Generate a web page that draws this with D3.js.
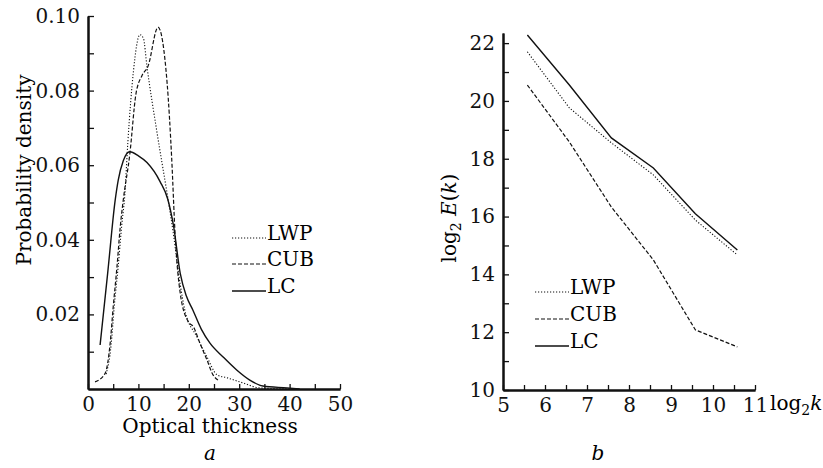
<!DOCTYPE html>
<html>
<head>
<meta charset="utf-8">
<script src="https://cdn.jsdelivr.net/npm/d3@7"></script>
<style>
  body { margin: 0; background: #fff; }
  svg { font-family: "DejaVu Serif", serif; font-size: 20px; }
  .axis path, .axis line { stroke: #111; }
  .axis text { font-family: "DejaVu Serif", serif; font-size: 20px; fill: #111; }
</style>
</head>
<body>
<svg width="823" height="468"></svg>
<script>
// panel a: probability density vs optical thickness  [tau, density]
const lwpPdf = [[3.6,0.004],[4.6,0.012],[5.2,0.022],[6,0.033],[6.7,0.044],[7.3,0.052],[7.9,0.066],[9,0.085],[10.3,0.095],[11,0.094],[11.7,0.0865],[13.7,0.0687],[15.9,0.0507],[16.9,0.042],[18.3,0.028],[19.2,0.0212],[21.6,0.014],[23.6,0.0086],[25.6,0.0038],[27.6,0.003],[30.8,0.0016],[34,0.0003],[40,0]];
const cubPdf = [[1.4,0.0019],[3.4,0.0042],[4.4,0.0123],[5,0.022],[5.75,0.0328],[6.4,0.0435],[7,0.0507],[8.3,0.063],[9.5,0.079],[10.7,0.084],[11.9,0.0865],[13.9,0.097],[15.7,0.082],[16.6,0.062],[17.3,0.041],[18.3,0.0257],[19.9,0.018],[20.9,0.0167],[22.2,0.0123],[23.6,0.0078],[24.8,0.0038],[25.8,0.0024]];
const lcPdf = [[2.4,0.0118],[3.9,0.031],[5.4,0.0507],[6,0.056],[7,0.0612],[8.3,0.0636],[10,0.0625],[11.7,0.0607],[14.3,0.0556],[15.8,0.051],[17,0.0435],[18.3,0.031],[19.5,0.025],[20.8,0.0212],[22.5,0.016],[24.2,0.0123],[26.8,0.0086],[29.5,0.0051],[32.1,0.0024],[34.7,0.0008],[39.5,0.0003],[42,0]];

// panel b: spectra
const logK = [5.58, 6.58, 7.58, 8.58, 9.58, 10.58];
const lwpSpec = [21.7, 19.76, 18.55, 17.44, 15.88, 14.67];
const cubSpec = [20.55, 18.58, 16.33, 14.5, 12.08, 11.49];
const lcSpec = [22.28, 20.55, 18.72, 17.68, 16.1, 14.84];

const seriesNames = ["LWP", "CUB", "LC"];
const dashes = {LWP: "1.2,1.8", CUB: "4,2", LC: null};
const widths = {LWP: 1.1, CUB: 1.2, LC: 1.4};

const svg = d3.select("svg");

function drawLine(g, pts, name, x, y, curve) {
  g.append("path")
    .datum(pts)
    .attr("fill", "none")
    .attr("stroke", "#111")
    .attr("stroke-width", widths[name])
    .attr("stroke-dasharray", dashes[name])
    .attr("d", d3.line().x(d => x(d[0])).y(d => y(d[1])).curve(curve));
}

function drawLegend(g, x0, ys) {
  seriesNames.forEach((name, i) => {
    g.append("line")
      .attr("x1", x0).attr("x2", x0 + 34)
      .attr("y1", ys[i] - 2).attr("y2", ys[i] - 2)
      .attr("stroke", "#111")
      .attr("stroke-width", widths[name])
      .attr("stroke-dasharray", dashes[name]);
    g.append("text").attr("x", x0 + 35).attr("y", ys[i]).text(name);
  });
}

function styleAxis(sel) {
  sel.attr("class", "axis");
  sel.select(".domain").attr("stroke-width", 2);
  sel.selectAll(".tick line").attr("stroke-width", 1.3);
}

// ---- panel a ----
const xa = d3.scaleLinear().domain([0, 50]).range([88, 340]);
const ya = d3.scaleLinear().domain([0, 0.1]).range([389, 16]);
const ga = svg.append("g");

ga.append("g").attr("transform", "translate(0,389)")
  .call(d3.axisBottom(xa).tickValues(d3.range(5, 50, 10)).tickSize(-5).tickSizeOuter(0).tickFormat(""))
  .call(styleAxis);
ga.append("g").attr("transform", "translate(0,389)")
  .call(d3.axisBottom(xa).tickValues(d3.range(0, 51, 10)).tickSize(-5).tickSizeOuter(0).tickPadding(8).tickFormat(d3.format("d")))
  .call(styleAxis);
ga.append("g").attr("transform", "translate(88,0)")
  .call(d3.axisLeft(ya).tickValues([0.01, 0.03, 0.05, 0.07, 0.09]).tickSize(-6).tickSizeOuter(0).tickFormat(""))
  .call(styleAxis);
ga.append("g").attr("transform", "translate(88,0)")
  .call(d3.axisLeft(ya).tickValues([0.02, 0.04, 0.06, 0.08, 0.1]).tickSize(-6).tickSizeOuter(0).tickPadding(8).tickFormat(d3.format(".2f")))
  .call(styleAxis);

drawLine(ga, lwpPdf, "LWP", xa, ya, d3.curveMonotoneX);
drawLine(ga, cubPdf, "CUB", xa, ya, d3.curveMonotoneX);
drawLine(ga, lcPdf, "LC", xa, ya, d3.curveMonotoneX);
drawLegend(ga, 232, [240, 266, 293]);

ga.append("text").attr("x", 210).attr("y", 433).attr("text-anchor", "middle").text("Optical thickness");
ga.append("text").attr("transform", "translate(31,170) rotate(-90)").attr("text-anchor", "middle").text("Probability density");
ga.append("text").attr("x", 210).attr("y", 460).attr("text-anchor", "middle").attr("font-style", "italic").text("a");

// ---- panel b ----
const xb = d3.scaleLinear().domain([5, 11]).range([503, 755]);
const yb = d3.scaleLinear().domain([10, 22.35]).range([390, 33]);
const gb = svg.append("g");

gb.append("g").attr("transform", "translate(0,390)")
  .call(d3.axisBottom(xb).tickValues(d3.range(5.5, 11, 1)).tickSize(-5).tickSizeOuter(0).tickFormat(""))
  .call(styleAxis);
gb.append("g").attr("transform", "translate(0,390)")
  .call(d3.axisBottom(xb).tickValues(d3.range(5, 12, 1)).tickSize(-5).tickSizeOuter(0).tickPadding(8).tickFormat(d3.format("d")))
  .call(styleAxis);
gb.append("g").attr("transform", "translate(503,0)")
  .call(d3.axisLeft(yb).tickValues(d3.range(11, 23, 2)).tickSize(-6).tickSizeOuter(0).tickFormat(""))
  .call(styleAxis);
gb.append("g").attr("transform", "translate(503,0)")
  .call(d3.axisLeft(yb).tickValues(d3.range(10, 23, 2)).tickSize(-6).tickSizeOuter(0).tickPadding(8).tickFormat(d3.format("d")))
  .call(styleAxis);

drawLine(gb, d3.zip(logK, lwpSpec), "LWP", xb, yb, d3.curveLinear);
drawLine(gb, d3.zip(logK, cubSpec), "CUB", xb, yb, d3.curveLinear);
drawLine(gb, d3.zip(logK, lcSpec), "LC", xb, yb, d3.curveLinear);
drawLegend(gb, 535, [294, 321, 348]);

const xl = gb.append("text").attr("x", 770).attr("y", 410);
xl.append("tspan").text("log");
xl.append("tspan").attr("font-size", 14).attr("dy", 5).text("2");
xl.append("tspan").attr("font-style", "italic").attr("dy", -5).text("k");

const yl = gb.append("text").attr("transform", "translate(456,218) rotate(-90)").attr("text-anchor", "middle");
yl.append("tspan").text("log");
yl.append("tspan").attr("font-size", 14).attr("dy", 5).text("2");
yl.append("tspan").attr("dy", -5).attr("font-style", "italic").text(" E");
yl.append("tspan").text("(");
yl.append("tspan").attr("font-style", "italic").text("k");
yl.append("tspan").text(")");

gb.append("text").attr("x", 598).attr("y", 460).attr("text-anchor", "middle").attr("font-style", "italic").text("b");
</script>
</body>
</html>
